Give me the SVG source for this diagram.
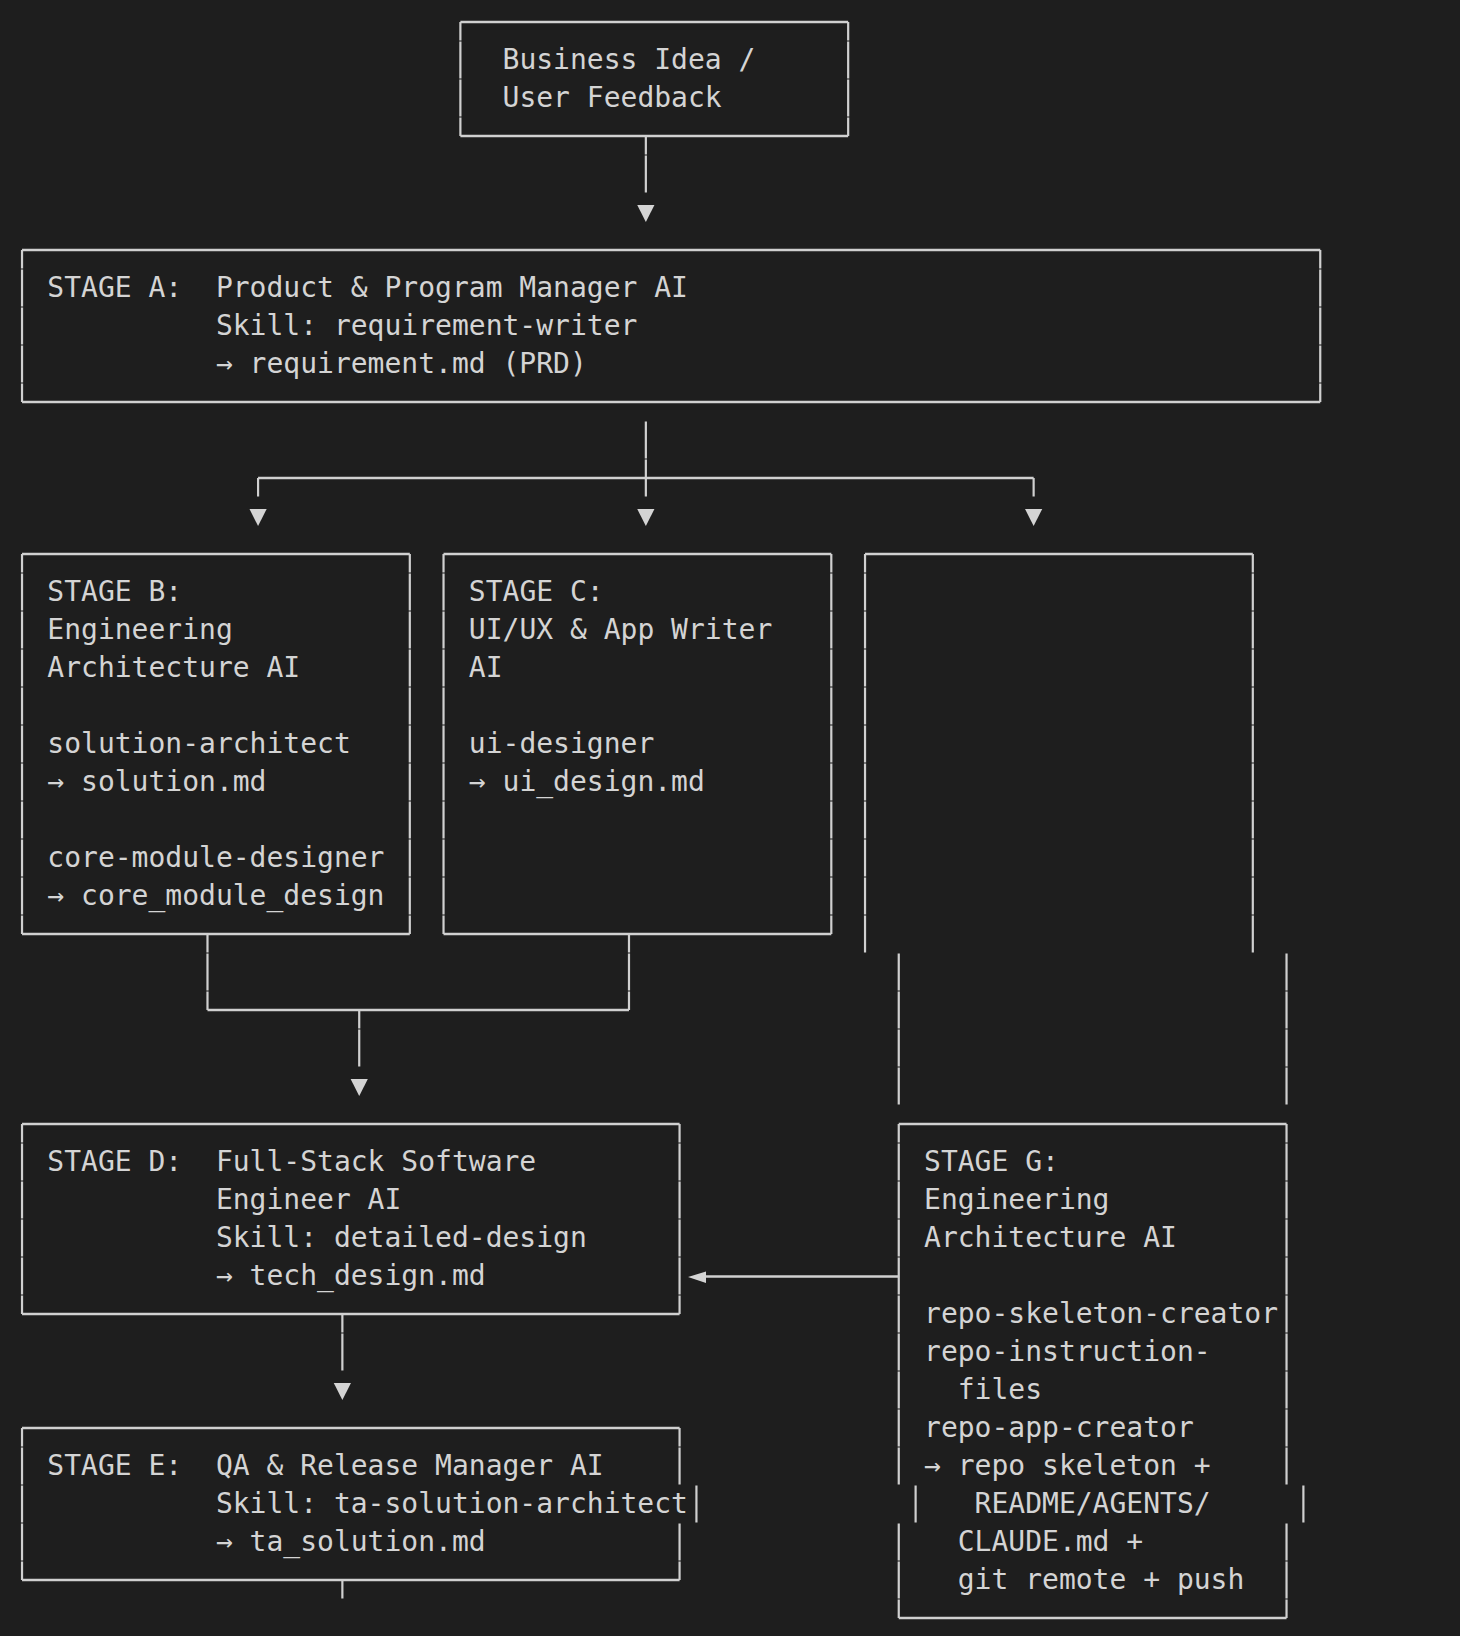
<svg xmlns="http://www.w3.org/2000/svg" width="1460" height="1636" viewBox="0 0 1460 1636">
<style>
.t{font-family:"DejaVu Sans Mono","Liberation Mono",monospace;font-size:28px;fill:#d4d4d4}
.h{stroke:#d0d0d0;stroke-width:2.4;fill:none}
.vc{stroke:#d0d0d0;stroke-width:2.2;fill:none;stroke-dasharray:37 1;stroke-dashoffset:18.5}
.vb{stroke:#d0d0d0;stroke-width:2.2;fill:none;stroke-dasharray:37 1;stroke-dashoffset:37.5}
.ah{fill:#d4d4d4}
</style>
<defs>
<polygon id="adown" points="-8.6,0 8.6,0 0,17"/>
</defs>
<rect width="1460" height="1636" fill="#1e1e1e"/>

<g id="connectors">
  <line class="vc" x1="645.85" y1="136" x2="645.85" y2="193"/>
  <use href="#adown" class="ah" x="645.85" y="205"/>

  <line class="vb" x1="645.85" y1="421" x2="645.85" y2="497"/>
  <path class="h" d="M258.07 478H1033.63"/>
  <line class="vc" x1="258.07" y1="478" x2="258.07" y2="497"/>
  <line class="vc" x1="1033.63" y1="478" x2="1033.63" y2="497"/>
  <use href="#adown" class="ah" x="258.07" y="509"/>
  <use href="#adown" class="ah" x="645.85" y="509"/>
  <use href="#adown" class="ah" x="1033.63" y="509"/>

  <line class="vc" x1="207.49" y1="934" x2="207.49" y2="1010"/>
  <line class="vc" x1="628.99" y1="934" x2="628.99" y2="1010"/>
  <path class="h" d="M207.49 1010H628.99"/>
  <line class="vc" x1="359.23" y1="1010" x2="359.23" y2="1067"/>
  <use href="#adown" class="ah" x="359.23" y="1079"/>

  <line class="vc" x1="342.37" y1="1314" x2="342.37" y2="1371"/>
  <use href="#adown" class="ah" x="342.37" y="1383"/>

  <line class="vc" x1="342.37" y1="1580" x2="342.37" y2="1599"/>

  <path class="h" d="M704.86 1276.5H898.75"/>
  <polygon class="ah" points="688,1277 706,1271.5 706,1283"/>
</g>

<g id="node-idea">
  <path class="h" d="M460.39 22H848.17M460.39 136H848.17"/>
  <line class="vc" x1="460.39" y1="22" x2="460.39" y2="136"/>
  <line class="vc" x1="848.17" y1="22" x2="848.17" y2="136"/>
  <text class="t" x="502.54" y="69">Business Idea /</text>
  <text class="t" x="502.54" y="107">User Feedback</text>
</g>

<g id="node-stage-a">
  <path class="h" d="M22.03 250H1320.25M22.03 402H1320.25"/>
  <line class="vc" x1="22.03" y1="250" x2="22.03" y2="402"/>
  <line class="vc" x1="1320.25" y1="250" x2="1320.25" y2="402"/>
  <text class="t" x="47.32" y="297">STAGE A:</text>
  <text class="t" x="215.92" y="297">Product &amp; Program Manager AI</text>
  <text class="t" x="215.92" y="335">Skill: requirement-writer</text>
  <text class="t" x="215.92" y="373">→ requirement.md (PRD)</text>
</g>

<g id="node-stage-b">
  <path class="h" d="M22.03 554H409.81M22.03 934H409.81"/>
  <line class="vc" x1="22.03" y1="554" x2="22.03" y2="934"/>
  <line class="vc" x1="409.81" y1="554" x2="409.81" y2="934"/>
  <text class="t" x="47.32" y="601">STAGE B:</text>
  <text class="t" x="47.32" y="639">Engineering</text>
  <text class="t" x="47.32" y="677">Architecture AI</text>
  <text class="t" x="47.32" y="753">solution-architect</text>
  <text class="t" x="47.32" y="791">→ solution.md</text>
  <text class="t" x="47.32" y="867">core-module-designer</text>
  <text class="t" x="47.32" y="905">→ core_module_design</text>
</g>

<g id="node-stage-c">
  <path class="h" d="M443.53 554H831.31M443.53 934H831.31"/>
  <line class="vc" x1="443.53" y1="554" x2="443.53" y2="934"/>
  <line class="vc" x1="831.31" y1="554" x2="831.31" y2="934"/>
  <text class="t" x="468.82" y="601">STAGE C:</text>
  <text class="t" x="468.82" y="639">UI/UX &amp; App Writer</text>
  <text class="t" x="468.82" y="677">AI</text>
  <text class="t" x="468.82" y="753">ui-designer</text>
  <text class="t" x="468.82" y="791">→ ui_design.md</text>
</g>

<g id="node-stage-g-frame">
  <path class="h" d="M865.03 554H1252.81"/>
  <line class="vc" x1="865.03" y1="554" x2="865.03" y2="953"/>
  <line class="vc" x1="1252.81" y1="554" x2="1252.81" y2="953"/>
  <line class="vb" x1="898.75" y1="953" x2="898.75" y2="1105"/>
  <line class="vb" x1="1286.53" y1="953" x2="1286.53" y2="1105"/>
</g>

<g id="node-stage-d">
  <path class="h" d="M22.03 1124H679.57M22.03 1314H679.57"/>
  <line class="vc" x1="22.03" y1="1124" x2="22.03" y2="1314"/>
  <line class="vc" x1="679.57" y1="1124" x2="679.57" y2="1314"/>
  <text class="t" x="47.32" y="1171">STAGE D:</text>
  <text class="t" x="215.92" y="1171">Full-Stack Software</text>
  <text class="t" x="215.92" y="1209">Engineer AI</text>
  <text class="t" x="215.92" y="1247">Skill: detailed-design</text>
  <text class="t" x="215.92" y="1285">→ tech_design.md</text>
</g>

<g id="node-stage-e">
  <path class="h" d="M22.03 1428H679.57M22.03 1580H679.57"/>
  <line class="vc" x1="22.03" y1="1428" x2="22.03" y2="1580"/>
  <line class="vc" x1="679.57" y1="1428" x2="679.57" y2="1485"/>
  <line class="vb" x1="696.43" y1="1485" x2="696.43" y2="1523"/>
  <line class="vb" x1="679.57" y1="1523" x2="679.57" y2="1580"/>
  <text class="t" x="47.32" y="1475">STAGE E:</text>
  <text class="t" x="215.92" y="1475">QA &amp; Release Manager AI</text>
  <text class="t" x="215.92" y="1513">Skill: ta-solution-architect</text>
  <text class="t" x="215.92" y="1551">→ ta_solution.md</text>
</g>

<g id="node-stage-g">
  <path class="h" d="M898.75 1124H1286.53M898.75 1618H1286.53"/>
  <line class="vc" x1="898.75" y1="1124" x2="898.75" y2="1485"/>
  <line class="vb" x1="915.61" y1="1485" x2="915.61" y2="1523"/>
  <line class="vb" x1="898.75" y1="1523" x2="898.75" y2="1618"/>
  <line class="vc" x1="1286.53" y1="1124" x2="1286.53" y2="1485"/>
  <line class="vb" x1="1303.39" y1="1485" x2="1303.39" y2="1523"/>
  <line class="vb" x1="1286.53" y1="1523" x2="1286.53" y2="1618"/>
  <text class="t" x="924.04" y="1171">STAGE G:</text>
  <text class="t" x="924.04" y="1209">Engineering</text>
  <text class="t" x="924.04" y="1247">Architecture AI</text>
  <text class="t" x="924.04" y="1323">repo-skeleton-creator</text>
  <text class="t" x="924.04" y="1361">repo-instruction-</text>
  <text class="t" x="957.76" y="1399">files</text>
  <text class="t" x="924.04" y="1437">repo-app-creator</text>
  <text class="t" x="924.04" y="1475">→ repo skeleton +</text>
  <text class="t" x="974.62" y="1513">README/AGENTS/</text>
  <text class="t" x="957.76" y="1551">CLAUDE.md +</text>
  <text class="t" x="957.76" y="1589">git remote + push</text>
</g>
</svg>
